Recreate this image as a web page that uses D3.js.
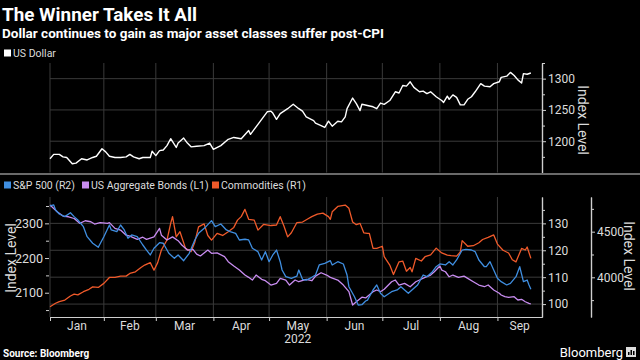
<!DOCTYPE html>
<html><head><meta charset="utf-8">
<script src="https://cdn.jsdelivr.net/npm/d3@7"></script>
<style>
html,body{margin:0;padding:0;background:#000;}
svg{display:block;}
text{font-family:Roboto,"Liberation Sans",sans-serif;}
</style></head>
<body>
<svg id="c" width="640" height="360"></svg>
<script>
const title = "The Winner Takes It All";
const subtitle = "Dollar continues to gain as major asset classes suffer post-CPI";
const monthLabels = ["Jan","Feb","Mar","Apr","May","Jun","Jul","Aug","Sep"];
const monthStarts = ["01-03","02-01","03-01","04-01","05-01","06-01","07-01","08-01","09-01"];
const yearLabel = "2022";
const usdTicks = [1200,1250,1300];
const bondTicks = [2100,2200,2300];
const cmdTicks = [100,110,120,130];
const spxTicks = [4000,4500];

const usdDates = ["01-03","01-05","01-08","01-10","01-12","01-15","01-17","01-20","01-23","01-26","01-28","01-31","02-02","02-04","02-07","02-10","02-13","02-15","02-17","02-20","02-22","02-26","02-27","03-01","03-03","03-05","03-07","03-09","03-12","03-13","03-16","03-18","03-20","03-23","03-27","03-30","04-01","04-05","04-09","04-12","04-16","04-20","04-21","04-25","04-30","05-02","05-03","05-05","05-07","05-11","05-14","05-17","05-19","05-21","05-25","05-26","05-29","05-31","06-02","06-04","06-07","06-09","06-11","06-12","06-15","06-17","06-19","06-20","06-23","06-26","06-28","06-30","07-02","07-05","07-08","07-10","07-12","07-14","07-16","07-18","07-21","07-23","07-25","07-27","07-30","08-02","08-03","08-05","08-06","08-08","08-10","08-12","08-14","08-16","08-18","08-20","08-23","08-25","08-28","08-30","09-02","09-03","09-06","09-08","09-10","09-12","09-14","09-15","09-17","09-19"];
const usdValues = [1172,1179,1179,1175,1174,1164,1165,1172,1170,1174,1176,1188,1183,1176,1174,1174,1175,1179,1175,1172,1174,1174,1184,1177,1185,1186,1193,1204,1190,1197,1205,1197,1191,1192,1193,1197,1187,1193,1203,1206,1204,1217,1211,1227,1247,1248,1245,1235,1244,1252,1259,1252,1248,1239,1233,1229,1225,1222,1232,1224,1232,1231,1239,1252,1269,1260,1249,1259,1257,1255,1252,1261,1259,1265,1279,1277,1289,1288,1295,1286,1279,1280,1276,1279,1271,1265,1262,1272,1267,1274,1270,1258,1258,1267,1271,1279,1292,1288,1287,1292,1295,1302,1304,1310,1305,1298,1293,1308,1307,1309];

const spxDates = ["01-03","01-05","01-06","01-08","01-11","01-14","01-16","01-18","01-21","01-23","01-26","01-29","02-01","02-04","02-05","02-08","02-10","02-12","02-14","02-16","02-19","02-22","02-24","02-26","02-28","03-03","03-05","03-08","03-11","03-13","03-16","03-19","03-22","03-24","03-28","03-31","04-02","04-05","04-08","04-10","04-13","04-15","04-18","04-20","04-22","04-25","04-27","04-29","05-01","05-03","05-05","05-07","05-08","05-10","05-13","05-16","05-17","05-19","05-21","05-24","05-26","05-28","05-31","06-03","06-04","06-07","06-10","06-12","06-13","06-16","06-18","06-20","06-22","06-23","06-26","06-28","06-30","07-02","07-06","07-09","07-11","07-15","07-18","07-20","07-23","07-25","07-28","07-30","08-01","08-04","08-06","08-08","08-10","08-13","08-15","08-18","08-20","08-22","08-25","08-26","08-28","08-30","09-01","09-03","09-06","09-08","09-11","09-13","09-15","09-17","09-18","09-19"];
const spxValues = [4782,4793,4738,4694,4665,4708,4665,4628,4555,4445,4373,4329,4445,4573,4519,4500,4573,4519,4428,4464,4445,4354,4299,4245,4318,4379,4373,4263,4208,4245,4182,4263,4409,4482,4555,4621,4555,4584,4519,4500,4482,4409,4417,4409,4318,4281,4190,4281,4171,4245,4299,4171,4080,4007,3989,4014,4080,3978,3970,4000,4025,4135,4153,4182,4135,4171,4146,4025,3897,3787,3696,3700,3740,3750,3861,3916,3825,3787,3842,3861,3897,3825,3879,3916,4025,4007,4061,4116,4146,4135,4171,4135,4190,4299,4307,4299,4281,4190,4116,4116,4171,4080,3989,3952,3916,3934,4007,4116,3952,3970,3916,3868];

const bondDates = ["01-03","01-07","01-10","01-13","01-16","01-19","01-22","01-25","01-27","01-30","02-03","02-04","02-07","02-10","02-13","02-15","02-19","02-22","02-24","02-28","03-03","03-04","03-07","03-10","03-13","03-15","03-18","03-21","03-23","03-25","03-29","03-31","04-03","04-07","04-09","04-12","04-15","04-18","04-20","04-22","04-24","04-27","04-29","05-02","05-05","05-07","05-10","05-12","05-15","05-17","05-21","05-24","05-26","05-29","06-01","06-03","06-07","06-10","06-13","06-15","06-17","06-20","06-22","06-26","06-28","06-30","07-02","07-06","07-08","07-10","07-13","07-16","07-19","07-21","07-24","07-27","07-29","08-01","08-02","08-04","08-06","08-08","08-11","08-14","08-16","08-19","08-22","08-25","08-27","08-30","09-02","09-03","09-05","09-07","09-10","09-12","09-14","09-16","09-18","09-19"];
const bondValues = [2352.7,2333,2321,2319,2314,2300,2307.5,2304.6,2298,2302,2300,2302,2285.6,2280.7,2266,2263,2254,2260,2254,2261,2285.6,2266,2252,2261,2250,2237.5,2223,2225,2211.5,2206,2223,2213.5,2215,2204,2189.6,2177,2165.4,2151,2144.4,2136.6,2151,2138.6,2134.6,2122.2,2127,2141.5,2136.6,2122,2136.6,2131.7,2138.6,2134.6,2148,2157.6,2151,2144.4,2136.6,2122,2103,2064.6,2074,2087,2085,2103,2107.8,2103,2110,2131.7,2136.6,2122.2,2127,2117.3,2131.7,2136.6,2144.4,2151,2160.5,2177,2165.4,2160.5,2146,2151,2144.4,2148,2141.5,2131.7,2122.2,2117.3,2122.2,2107.8,2098.3,2093.4,2088.5,2086.7,2088.5,2079,2081,2074,2069.5,2067.5];

const cmdDates = ["01-03","01-06","01-08","01-11","01-14","01-16","01-18","01-21","01-24","01-26","01-29","02-01","02-04","02-07","02-10","02-13","02-15","02-18","02-21","02-23","02-26","02-28","03-02","03-04","03-07","03-09","03-10","03-12","03-14","03-17","03-20","03-22","03-24","03-27","03-29","03-31","04-03","04-06","04-09","04-12","04-14","04-16","04-18","04-20","04-23","04-25","04-28","05-02","05-05","05-07","05-09","05-11","05-13","05-16","05-19","05-22","05-24","05-27","05-30","06-02","06-03","06-04","06-07","06-11","06-13","06-15","06-17","06-19","06-21","06-23","06-24","06-26","06-28","07-01","07-02","07-05","07-07","07-10","07-12","07-14","07-16","07-17","07-19","07-22","07-24","07-27","07-30","08-02","08-05","08-07","08-10","08-12","08-13","08-16","08-19","08-22","08-24","08-27","08-30","09-01","09-04","09-07","09-09","09-11","09-14","09-16","09-17","09-19"];
const cmdValues = [99.0,100.3,100.9,101.5,103,103.7,103.4,104.6,105.5,106.4,106.2,107.7,109.9,109.9,110.4,110.4,111.4,112,113.6,114.5,115.4,112.6,115.4,120.1,123.8,130,132.5,125,126.9,120.7,119.5,123,128.7,129.8,125.5,123.8,126.3,125.5,126.9,128.5,131.2,132.5,135.2,131.5,131.2,127.5,129.6,129.2,129.4,132.5,129,125,126.5,130.3,130.5,131.7,132.5,133.4,133.8,132.5,131.5,134.3,136.3,136.8,135.6,130.5,129.5,130,126.5,126.3,126.3,120.7,120.7,121.5,117.6,114.5,111,115.7,116,112.2,113.6,112,117,116,117.6,118.3,120.8,119,118.2,118,117.8,119.4,123.6,121.5,121.7,122.8,124,124.8,125.7,122.3,120,119,116.5,115.7,120.7,120.1,121.2,117];

const colors = {usd:"#ffffff", spx:"#3f8ee0", bond:"#c88cf0", cmd:"#f05a2a"};
const parse = d3.timeParse("%Y-%m-%d");
const P = s => parse("2022-" + s);
const series = (ds, vs) => ds.map((d,i) => ({date:P(d), value:vs[i]}));

const svg = d3.select("#c");
svg.append("rect").attr("width",640).attr("height",360).attr("fill","#000");

const X0 = 50, X1 = 542;
const x = d3.scaleTime().domain([P("01-03"), P("09-25")]).range([X0, X1]);

// Top panel
const TT = 63, TB = 172.5;
const yUsd = d3.scaleLinear().domain([1150,1325]).range([TB, TT]);
// Bottom panel
const BT = 197, BB = 317;
const yBond = d3.scaleLinear().domain([2030,2376]).range([BB, BT]);
const yCmd = d3.scaleLinear().domain([95.2,139.8]).range([BB, BT]);
const ySpx = d3.scaleLinear().domain([3565,4880]).range([BB, BT]);

const gridCol = "#3a3a3a", axisCol = "#cfcfcf", txtCol = "#dcdcdc";

// Title
svg.append("text").attr("x",2).attr("y",21).text(title)
  .attr("fill","#fff").attr("font-size",19).attr("font-weight","bold")
  .attr("textLength",195).attr("lengthAdjust","spacingAndGlyphs");
svg.append("text").attr("x",2).attr("y",38).text(subtitle)
  .attr("fill","#fff").attr("font-size",13.5).attr("font-weight","bold")
  .attr("textLength",382).attr("lengthAdjust","spacingAndGlyphs");

// Legends
function legend(items, y) {
  items.forEach(it => {
    svg.append("rect").attr("x",it.x).attr("y",y-3.5).attr("width",7).attr("height",7).attr("fill",it.c);
    svg.append("text").attr("x",it.x+9).attr("y",y+3.8).text(it.t).attr("fill",txtCol).attr("font-size",10.5);
  });
}
legend([{x:4,c:colors.usd,t:"US Dollar"}], 53);
legend([{x:4,c:colors.spx,t:"S&P 500 (R2)"},{x:82,c:colors.bond,t:"US Aggregate Bonds (L1)"},{x:212,c:colors.cmd,t:"Commodities (R1)"}], 185);

// Grids
const ms = monthStarts.map(P);
function vgrid(top, bot) {
  svg.append("g").selectAll("line").data(ms).join("line")
    .attr("x1", d=>x(d)).attr("x2", d=>x(d)).attr("y1", top).attr("y2", bot)
    .attr("stroke", gridCol).attr("stroke-width",1);
}
vgrid(TT, TB); vgrid(BT, BB);
svg.append("g").selectAll("line").data(usdTicks).join("line")
  .attr("x1",X0).attr("x2",X1).attr("y1",d=>yUsd(d)).attr("y2",d=>yUsd(d))
  .attr("stroke",gridCol);
svg.append("g").selectAll("line").data(cmdTicks).join("line")
  .attr("x1",X0).attr("x2",X1).attr("y1",d=>yCmd(d)).attr("y2",d=>yCmd(d))
  .attr("stroke",gridCol);

// separator
svg.append("rect").attr("x",0).attr("y",173).attr("width",640).attr("height",2).attr("fill","#6a6a6a");

// Axis helper
function styleAxis(g) {
  g.selectAll("path.domain").attr("stroke",axisCol).attr("stroke-width",1.2);
  g.selectAll(".tick line").attr("stroke",axisCol);
  g.selectAll(".tick text").attr("fill",txtCol).attr("font-size",12).attr("font-family","Roboto,'Liberation Sans',sans-serif");
}
function rightAxis(scale, ticks, minor, xpos) {
  const g1 = svg.append("g").attr("transform",`translate(${xpos},0)`)
    .call(d3.axisRight(scale).tickValues(minor).tickFormat("").tickSize(3).tickSizeOuter(0));
  styleAxis(g1);
  const g = svg.append("g").attr("transform",`translate(${xpos},0)`)
    .call(d3.axisRight(scale).tickValues(ticks).tickFormat(d3.format("d")).tickSize(4).tickPadding(2).tickSizeOuter(0));
  styleAxis(g);
  return g;
}
rightAxis(yUsd, usdTicks, [1175,1225,1275,1325], X1);
rightAxis(yCmd, cmdTicks, [105,115,125,135], X1);
rightAxis(ySpx, spxTicks, [3750,4250,4750], 591);

// Left axis (bonds)
const gl1 = svg.append("g").attr("transform",`translate(${X0-1},0)`)
  .call(d3.axisLeft(yBond).tickValues([2050,2150,2250,2350]).tickFormat("").tickSize(3).tickSizeOuter(0));
styleAxis(gl1); gl1.select("path.domain").remove();
const gl = svg.append("g").attr("transform",`translate(${X0-1},0)`)
  .call(d3.axisLeft(yBond).tickValues(bondTicks).tickFormat(d3.format("d")).tickSize(4).tickPadding(2).tickSizeOuter(0));
styleAxis(gl); gl.select("path.domain").remove();
gl.selectAll(".tick text").attr("font-size",12.5);

// Bottom x axis
const gx = svg.append("g").attr("transform",`translate(0,${BB})`)
  .call(d3.axisBottom(x).tickValues(ms).tickFormat("").tickSize(4).tickSizeOuter(0));
styleAxis(gx);
const bounds = ms.concat([x.domain()[1]]);
monthLabels.forEach((m,i) => {
  const cx = (x(bounds[i]) + x(bounds[i+1])) / 2;
  svg.append("text").attr("x",cx).attr("y",330).attr("text-anchor","middle")
    .attr("fill",txtCol).attr("font-size",12).text(m);
});
svg.append("text").attr("x",(x(P("05-01"))+x(P("06-01")))/2).attr("y",343).attr("text-anchor","middle")
  .attr("fill",txtCol).attr("font-size",12).text(yearLabel);

// Axis titles
function vlabel(xp, yp, rot) {
  svg.append("text").attr("transform",`translate(${xp},${yp}) rotate(${rot})`)
    .attr("text-anchor","middle").attr("dy","0.35em").attr("fill",txtCol).attr("font-size",14).text("Index Level");
}
vlabel(583, 120, 90);
vlabel(629, 256, 90);
vlabel(11, 258, -90);

// Lines
const line = (ys) => d3.line().x(d=>x(d.date)).y(d=>ys(d.value));
function draw(data, ys, col, w) {
  svg.append("path").datum(data).attr("d", line(ys)).attr("fill","none")
    .attr("stroke", col).attr("stroke-width", w).attr("stroke-linejoin","round");
}
draw(series(usdDates, usdValues), yUsd, colors.usd, 1.4);
draw(series(cmdDates, cmdValues), yCmd, colors.cmd, 1.3);
draw(series(bondDates, bondValues), yBond, colors.bond, 1.3);
draw(series(spxDates, spxValues), ySpx, colors.spx, 1.3);

// Footer
svg.append("text").attr("x",3).attr("y",357).text("Source: Bloomberg")
  .attr("fill","#fff").attr("font-size",10).attr("font-weight","bold");
svg.append("text").attr("x",623).attr("y",357).attr("text-anchor","end").text("Bloomberg")
  .attr("fill","#fff").attr("font-size",13);
svg.append("rect").attr("x",626).attr("y",347).attr("width",10).attr("height",10).attr("fill","#ddd");
svg.append("rect").attr("x",628).attr("y",352).attr("width",1.5).attr("height",3).attr("fill","#000");
svg.append("rect").attr("x",630.5).attr("y",350).attr("width",1.5).attr("height",5).attr("fill","#000");
svg.append("rect").attr("x",633).attr("y",351).attr("width",1.5).attr("height",4).attr("fill","#000");
</script>
</body></html>
